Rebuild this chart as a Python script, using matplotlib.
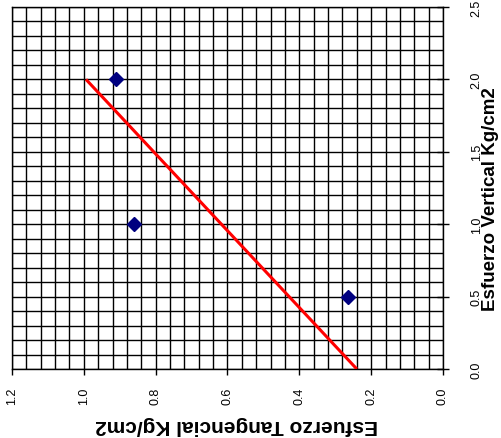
import numpy as np
import matplotlib
matplotlib.use("Agg")
import matplotlib.pyplot as plt
from matplotlib.ticker import MultipleLocator, FormatStrFormatter

plt.rcParams['font.family'] = ['Liberation Sans', 'DejaVu Sans']

# Data: normal (vertical) stress vs shear (tangential) stress
esfuerzo_vertical = [0.5, 1.0, 2.0]
esfuerzo_tangencial = [0.265, 0.860, 0.911]

# Fitted envelope: tau = c + tan(phi) * sigma
cohesion = 0.24
pendiente = 0.377
linea_sigma = [0.0, 2.0]
linea_tau = [cohesion + pendiente * s for s in linea_sigma]

W, H = 502, 439
fig = plt.figure(figsize=(W / 100, H / 100), dpi=100)
ax = fig.add_axes([12 / W, 1 - 370 / H, (443 - 12) / W, (370 - 8) / H])

# Rotated chart: horizontal axis = tangential (inverted), vertical axis = vertical stress
ax.set_xlim(1.2, 0.0)
ax.set_ylim(0.0, 2.5)

ax.xaxis.set_major_locator(MultipleLocator(0.2))
ax.xaxis.set_minor_locator(MultipleLocator(0.04))
ax.yaxis.set_major_locator(MultipleLocator(0.5))
ax.yaxis.set_minor_locator(MultipleLocator(0.1))
ax.xaxis.set_major_formatter(FormatStrFormatter('%.1f'))
ax.yaxis.set_major_formatter(FormatStrFormatter('%.1f'))

ax.grid(True, which='both', color='black', linewidth=1.0)
ax.set_axisbelow(True)

ax.yaxis.tick_right()
ax.tick_params(axis='y', which='major', direction='inout', length=8, width=1,
               pad=16, labelsize=9, labelrotation=90, colors='black')
ax.tick_params(axis='x', which='major', direction='out', length=4, width=1,
               pad=9, labelsize=9, labelrotation=90, colors='black')
ax.tick_params(which='minor', length=0)
for lab in ax.get_yticklabels():
    lab.set_va('center')
for sp in ax.spines.values():
    sp.set_color('black')
    sp.set_linewidth(1.0)

ax.plot(linea_tau, linea_sigma, color='#ff0000', linewidth=2.2, zorder=3,
        solid_capstyle='butt')
ax.plot(esfuerzo_tangencial, esfuerzo_vertical, linestyle='none', marker='D',
        markersize=7.5, color='#000080', zorder=4, clip_on=False)

fig.text(491 / W, 1 - 199 / H, 'Esfuerzo Vertical Kg/cm2', rotation=90,
         ha='center', va='center', fontsize=13.5, fontweight='bold')
fig.text(237 / W, 1 - 425 / H, 'Esfuerzo Tangencial Kg/cm2', rotation=180,
         ha='center', va='center', fontsize=15, fontweight='bold')

fig.savefig('out.png', dpi=100)
